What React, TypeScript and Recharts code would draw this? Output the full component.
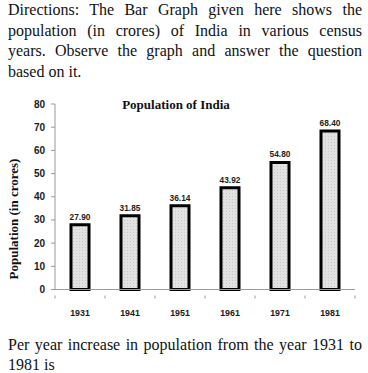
import { Bar, BarChart, LabelList, XAxis, YAxis } from 'recharts';

const years = ['1931', '1941', '1951', '1961', '1971', '1981'];
const population = [27.9, 31.85, 36.14, 43.92, 54.8, 68.4];
const valueLabels = ['27.90', '31.85', '36.14', '43.92', '54.80', '68.40'];
const yTicks = [0, 10, 20, 30, 40, 50, 60, 70, 80];

const data = years.map((year, i) => ({ year, value: population[i], label: valueLabels[i] }));

const serif = '"Liberation Serif", "Times New Roman", serif';
const sans = '"Liberation Sans", Arial, sans-serif';

const topLines = [
  'Directions: The Bar Graph given here shows the',
  'population (in crores) of India in various census',
  'years. Observe the graph and answer the question',
];

const justified: React.CSSProperties = { textAlign: 'justify', textAlignLast: 'justify' };

function YearTick(props: any) {
  const { x, y, payload, index } = props;
  const half = 25;
  return (
    <g>
      <line x1={x - half} y1={y - 14} x2={x - half} y2={y - 11} stroke="#9a9a9a" />
      {index === years.length - 1 && (
        <line x1={x + half} y1={y - 14} x2={x + half} y2={y - 11} stroke="#9a9a9a" />
      )}
      <text x={x} y={y} dy="0.71em" textAnchor="middle" fontFamily={sans} fontWeight="bold" fontSize={8.8} fill="#1a1a1a">
        {payload.value}
      </text>
    </g>
  );
}

export default function App() {
  return (
    <div style={{ position: 'absolute', left: 0, top: 0, width: 368, height: 373, background: '#fff', color: '#111', fontFamily: serif }}>
      <div style={{ position: 'absolute', left: 8, top: 0, width: 354, fontSize: 16, lineHeight: '20.7px' }}>
        {topLines.map((line) => (
          <div key={line} style={justified}>{line}</div>
        ))}
        <div>based on it.</div>
      </div>

      <div style={{ position: 'absolute', left: 0, top: 90 }}>
        <BarChart width={368} height={235} data={data} margin={{ top: 14, right: 13, bottom: 5.5, left: 0 }} barCategoryGap={0}>
          <defs>
            <pattern id="dots" width="3" height="3" patternUnits="userSpaceOnUse">
              <rect width="3" height="3" fill="#e2e2e2" />
              <rect x="1" y="1" width="1" height="1" fill="#c8c8c8" />
            </pattern>
          </defs>
          <XAxis
            dataKey="year"
            height={30}
            axisLine={{ stroke: '#9a9a9a' }}
            tickLine={false}
            tickMargin={14}
            tick={<YearTick />}
            interval={0}
          />
          <YAxis
            width={55}
            domain={[0, 80]}
            ticks={yTicks}
            interval={0}
            axisLine={{ stroke: '#9a9a9a' }}
            tickLine={{ stroke: '#9a9a9a' }}
            tickSize={4}
            tickMargin={6}
            tick={{ fontFamily: sans, fontWeight: 'bold', fontSize: 10, fill: '#1a1a1a' }}
          />
          <Bar dataKey="value" barSize={18} fill="url(#dots)" stroke="#000" strokeWidth={3} isAnimationActive={false}>
            <LabelList dataKey="label" position="top" offset={5} style={{ fontFamily: sans, fontWeight: 'bold', fontSize: 8.3, fill: '#222' }} />
          </Bar>
        </BarChart>
      </div>

      <div style={{ position: 'absolute', left: 76, top: 98, width: 200, textAlign: 'center', fontWeight: 'bold', fontSize: 13, lineHeight: '14px' }}>
        Population of India
      </div>

      <div
        style={{
          position: 'absolute',
          left: 14 - 80,
          top: 219 - 8,
          width: 160,
          height: 16,
          lineHeight: '16px',
          textAlign: 'center',
          fontWeight: 'bold',
          fontSize: 13,
          transform: 'rotate(-90deg)',
          transformOrigin: 'center',
        }}
      >
        Population (in crores)
      </div>

      <div style={{ position: 'absolute', left: 8, top: 335, width: 354, fontSize: 16, lineHeight: '20px' }}>
        <div style={justified}>Per year increase in population from the year 1931 to</div>
        <div>1981 is</div>
      </div>
    </div>
  );
}
